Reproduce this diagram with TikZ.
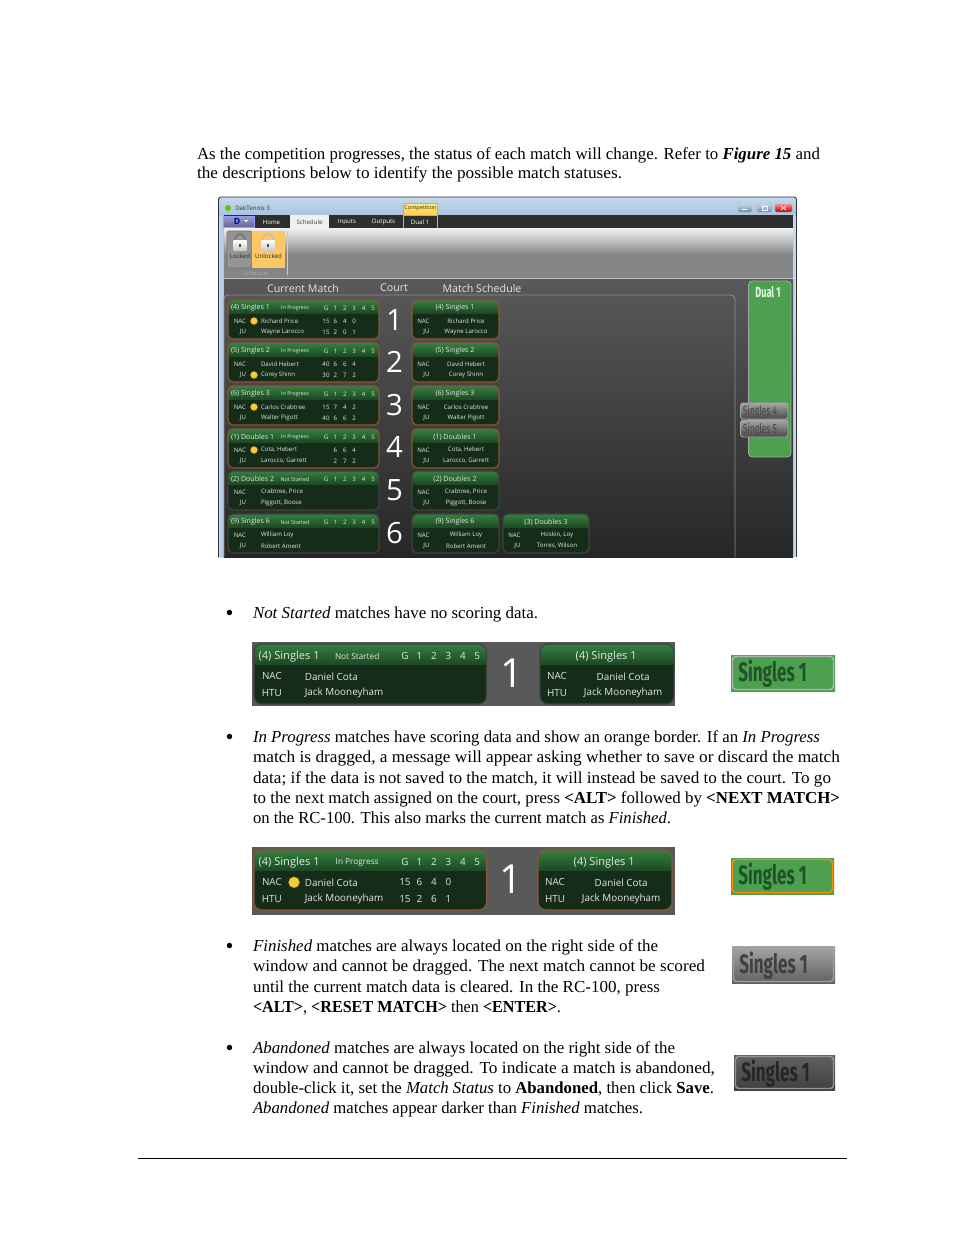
\documentclass[tikz,border=0pt]{standalone}
\usepackage{fontspec}
\usepackage{graphicx}
\setmainfont{Liberation Serif}
\newfontfamily\uifont{Open Sans}
\newfontfamily\condfont{Fira Sans}
\usetikzlibrary{calc}
\definecolor{uitext}{HTML}{E2E8E2}
\definecolor{cardbody}{HTML}{142C18}
\definecolor{hdrtop}{HTML}{35803F}
\definecolor{hdrbot}{HTML}{1C4A24}
\definecolor{brownedge}{HTML}{8A5536}
\definecolor{darkedge}{HTML}{3E423E}
\definecolor{dotyellow}{HTML}{F0CF3A}
\definecolor{stripgray}{HTML}{595959}
\definecolor{dualgreen}{HTML}{4CA04F}
\definecolor{swtext}{HTML}{1F5228}
\definecolor{winblue}{HTML}{C4D8EC}
\definecolor{winblueb}{HTML}{A8C4E0}
\definecolor{orangebtn}{HTML}{FCC865}
\tikzset{
  txt/.style={anchor=base west,inner sep=0pt,outer sep=0pt,text=black},
  ui/.style={inner sep=0pt,outer sep=0pt,text=uitext,font=\uifont},
}
% page text line: name, x, y, width in px, text
\newcommand\tl[5]{\node[txt] (#1) at (#2,#3+6) {\resizebox{\dimexpr #4pt*3/4\relax}{\height}{\fontsize{12.6}{14}\selectfont #5}};}
\newcommand\bul[2]{\node[txt] (#1) at (225.5,#2+8.5) {\fontsize{17}{17}\selectfont •};}
% card settings
\def\cs{1}\def\rr{5}\def\fa{4.6}\def\fb{4.0}\def\ft{5.3}\def\edge{brownedge}\def\tA{NAC}\def\tB{JU}\def\dotrow{0}
\newcommand\cardbase[4]{% x y w h
  \begin{scope}
  \clip[rounded corners=\rr*0.75pt] (0,0) rectangle (#3,#4);
  \fill[cardbody] (0,0) rectangle (#3,#4);
  \shade[top color=hdrtop,bottom color=hdrbot] (0,0) rectangle (#3,13);
  \end{scope}
  \draw[\edge,line width=0.9pt,rounded corners=\rr*0.75pt] (0,0) rectangle (#3,#4);
}
% left card: name x y title status p1 p2 scoresA scoresB
\newcommand\lcard[9]{%
  \begin{scope}[shift={(#2,#3)},scale=\cs]
  \cardbase{#2}{#3}{151}{39}
  \node[ui,anchor=west,font=\uifont\fontsize{\ft}{\ft}\selectfont] (#1-title) at (3,8) {#4};
  \node[ui,font=\uifont\fontsize{\fb}{\fb}\selectfont] (#1-status) at (67,8) {#5};
  \foreach \v [count=\i] in {G,1,2,3,4,5}
    \node[ui,font=\uifont\fontsize{\fa}{\fa}\selectfont] (#1-h\i) at ({98+9.4*(\i-1)},8) {\v};
  \node[ui,anchor=east,font=\uifont\fontsize{\fa}{\fa}\selectfont] (#1-ta) at (18,21) {\tA};
  \node[ui,anchor=east,font=\uifont\fontsize{\fa}{\fa}\selectfont] (#1-tb) at (18,32) {\tB};
  \node[ui,anchor=west,font=\uifont\fontsize{\fa}{\fa}\selectfont] (#1-pa) at (33,21) {#6};
  \node[ui,anchor=west,font=\uifont\fontsize{\fa}{\fa}\selectfont] (#1-pb) at (33,32) {#7};
  \foreach \v [count=\i] in {#8}
    \node[ui,font=\uifont\fontsize{\fa}{\fa}\selectfont] (#1-a\i) at ({98+9.4*(\i-1)},21) {\v};
  \foreach \v [count=\i] in {#9}
    \node[ui,font=\uifont\fontsize{\fa}{\fa}\selectfont] (#1-b\i) at ({98+9.4*(\i-1)},32) {\v};
  \ifnum\dotrow=1 \fill[dotyellow,draw=orange!80!black,line width=0.2pt] (26,21) circle (3.6); \fi
  \ifnum\dotrow=2 \fill[dotyellow,draw=orange!80!black,line width=0.2pt] (26,32) circle (3.6); \fi
  \end{scope}}
% right card: name x y title p1 p2 w
\newcommand\rcard[7]{%
  \begin{scope}[shift={(#2,#3)},scale=\cs]
  \cardbase{#2}{#3}{#7}{39}
  \node[ui,font=\uifont\fontsize{\ft}{\ft}\selectfont] (#1-title) at (43,8) {#4};
  \node[ui,anchor=east,font=\uifont\fontsize{\fa}{\fa}\selectfont] (#1-ta) at (17.5,21) {\tA};
  \node[ui,anchor=east,font=\uifont\fontsize{\fa}{\fa}\selectfont] (#1-tb) at (17.5,32) {\tB};
  \node[ui,font=\uifont\fontsize{\fa}{\fa}\selectfont] (#1-pa) at (54,21) {#5};
  \node[ui,font=\uifont\fontsize{\fa}{\fa}\selectfont] (#1-pb) at (54,32) {#6};
  \end{scope}}
% swatch: name x0 y0 x1 y1 fill-top fill-bottom edge textcolor
\newcommand\swatch[9]{%
  \shade[top color=#6,bottom color=#7] (#2,#3) rectangle (#4,#5);
  \draw[#8,line width=1.1pt,rounded corners=2.5pt] (#2+1.5,#3+1.5) rectangle (#4-1.5,#5-1.5);
  \node[inner sep=0pt,anchor=west,text=#9] (#1) at (#2+7,{(#3+#5)/2+1}) {\scalebox{0.64}[1]{\condfont\fontsize{20}{20}\selectfont\bfseries Singles 1}};}
\newcommand\lockicon[2]{%
  \draw[#2,line width=1pt] (#1-5,241) -- (#1-5,239) arc[start angle=180,end angle=360,radius=5] -- (#1+5,241);
  \shade[top color=white,bottom color=gray!40] (#1-6.5,240.5) rectangle (#1+6.5,250);
  \fill[black!70] (#1-1,244) rectangle (#1+1,247);}
\begin{document}
\begin{tikzpicture}[x=0.75pt,y=-0.75pt]
\useasboundingbox (0,0) rectangle (954,1235);
\fill[white] (0,0) rectangle (954,1235);
% --- intro
\tl{l1}{197}{153}{623}{As the competition progresses, the status of each match will change. Refer to \textbf{\textit{Figure 15}} and}
\tl{l2}{197}{172}{425}{the descriptions below to identify the possible match statuses.}
% --- screenshot frame
\fill[left color=winblue,right color=winblueb] (218.5,197) rectangle (224,557);
\fill[winblue] (792,197) rectangle (796.5,557);
\shade[top color=winblue,bottom color=winblueb] (218.5,197) rectangle (796.5,215);
\draw[black!80,line width=0.6pt,rounded corners=2pt] (218.5,557) -- (218.5,197) -- (796.5,197) -- (796.5,557);
\fill[black!82] (224,215) rectangle (793,228);
\shade[top color=black!6,bottom color=black!48,middle color=black!25] (224,228) rectangle (793,254);
\fill[black!48] (224,254) rectangle (793,278);
\draw[black!25,line width=0.6pt] (224,278.5) -- (793,278.5);
\shade[top color=black!65,bottom color=black!85] (224,279) rectangle (793,557);
% title bar
\fill[green!60!yellow!80!black] (228,208) circle (3);
\node[inner sep=0pt,anchor=west,font=\uifont\fontsize{4.6}{5}\selectfont,text=black!80] (apptitle) at (235,208.5) {DakTennis 3};
\shade[top color=winblue,bottom color=winblueb!70!black,draw=gray!60!white,line width=0.3pt,rounded corners=0.8pt] (738,204) rectangle (752,212);
\shade[top color=winblue,bottom color=winblueb!70!black,draw=gray!60!white,line width=0.3pt,rounded corners=0.8pt] (757,204) rectangle (772,212);
\shade[top color=red!45!white,bottom color=red!70!black,draw=gray!60!white,line width=0.3pt,rounded corners=0.8pt] (775,204) rectangle (792,212);
\draw[white,line width=0.5pt] (742,209.5) -- (747,209.5);
\draw[white,line width=0.4pt] (762,206.5) rectangle (767,210);
\draw[white,line width=0.5pt] (781,206) -- (786,210) (781,210) -- (786,206);
% tabs
\shade[top color=blue!30!gray!60!white,bottom color=blue!40!black!60,draw=blue!40!white,line width=0.3pt] (223,216) rectangle (254,227);
\node[inner sep=0pt,text=blue!50!black,font=\uifont\bfseries\fontsize{6.5}{6}\selectfont] (dbtn) at (237,221) {D};
\fill[white] (244,220) -- (248,220) -- (246,222) -- cycle;
\fill[black!6] (290,215) rectangle (329,228);
\shade[top color=orange!30!yellow!50!white,bottom color=orange!60!yellow!70!white,draw=orange!70!yellow,line width=0.3pt] (403,203) rectangle (437,215);
\draw[orange!60!yellow,line width=0.4pt] (403,215) -- (403,228) (437,215) -- (437,228);
\foreach \nm/\xp/\lab/\cl in {thome/271.5/Home/white,tsched/309.5/Schedule/black!75,tinp/347/Inputs/white,toutp/383.5/Outputs/white,tdual/420/Dual 1/white}
  \node[inner sep=0pt,font=\uifont\fontsize{4.6}{5}\selectfont,text=\cl] (\nm) at (\xp,222) {\lab};
\node[inner sep=0pt,font=\uifont\fontsize{4.2}{5}\selectfont,text=black!80] (tcomp) at (420.5,208.5) {Competition};
% ribbon buttons
\draw[black!55,fill=black!42,line width=0.5pt,rounded corners=1.5pt] (227,231) rectangle (252,268);
\fill[orangebtn] (252,231) rectangle (285,268);
\draw[white!80!black,line width=0.5pt] (287,231) -- (287,275);
\lockicon{240}{black!55}
\lockicon{268}{black!25}
\node[inner sep=0pt,font=\uifont\fontsize{4.6}{5}\selectfont,text=black!85] (blocked) at (240,256.5) {Locked};
\node[inner sep=0pt,font=\uifont\fontsize{4.6}{5}\selectfont,text=black!85] (bunlocked) at (268.5,256.5) {Unlocked};
\node[inner sep=0pt,font=\uifont\fontsize{4.4}{5}\selectfont,text=black!32] (bgroup) at (256,273) {Schedule};
% headers
\foreach \nm/\xp/\lab in {hcur/303/Current Match,hcourt/394/Court,hsched/482/Match Schedule}
  \node[inner sep=0pt,font=\uifont\fontsize{8}{9}\selectfont,text=white!90!black] (\nm) at (\xp,288) {\lab};
\draw[black!45,line width=0.7pt,rounded corners=3pt] (224,557) -- (224,295) -- (735,295) -- (735,557);
% cards
\def\edge{brownedge}
\def\dotrow{1}
\lcard{a1}{228}{300}{(4) Singles 1}{In Progress}{Richard Price}{Wayne Larocco}{15,6,4,0}{15,2,0,1}
\def\dotrow{2}
\lcard{a2}{228}{343}{(5) Singles 2}{In Progress}{David Hebert}{Corey Shinn}{40,6,6,4}{30,2,7,2}
\def\dotrow{1}
\lcard{a3}{228}{386}{(6) Singles 3}{In Progress}{Carlos Crabtree}{Walter Pigott}{15,7,4,2}{40,6,6,2}
\lcard{a4}{228}{429}{(1) Doubles 1}{In Progress}{Cota, Hebert}{Larocco, Garrett}{{},6,6,4}{{},2,7,2}
\rcard{b1}{412}{300}{(4) Singles 1}{Richard Price}{Wayne Larocco}{87}
\rcard{b2}{412}{343}{(5) Singles 2}{David Hebert}{Corey Shinn}{87}
\rcard{b3}{412}{386}{(6) Singles 3}{Carlos Crabtree}{Walter Pigott}{87}
\rcard{b4}{412}{429}{(1) Doubles 1}{Cota, Hebert}{Larocco, Garrett}{87}
\def\edge{darkedge}\def\dotrow{0}
\lcard{a5}{228}{471}{(2) Doubles 2}{Not Started}{Crabtree, Price}{Piggott, Boose}{{}}{{}}
\lcard{a6}{228}{514}{(9) Singles 6}{Not Started}{William Loy}{Robert Ament}{{}}{{}}
\rcard{b5}{412}{471}{(2) Doubles 2}{Crabtree, Price}{Piggott, Boose}{87}
\rcard{b6}{412}{514}{(9) Singles 6}{William Loy}{Robert Ament}{87}
\begin{scope}[shift={(91,0)}]
\rcard{b7}{412}{514}{(3) Doubles 3}{Hoskin, Loy}{Torres, Wilson}{86}
\end{scope}
\foreach \d/\yp in {1/320,2/362,3/405,4/447,5/490,6/533}
  \node[inner sep=0pt,text=white,font=\uifont\fontsize{22}{22}\selectfont] (court\d) at (394.5,\yp) {\d};
% dual panel
\draw[fill=dualgreen,draw=black!35,line width=0.7pt,rounded corners=3pt] (748.5,281) rectangle (791,457);
\node[inner sep=0pt,text=white!88!green,font=\condfont\bfseries\fontsize{11}{11}\selectfont] (dualname) at (768,292.5) {\scalebox{0.62}[1]{Dual 1}};
\foreach \nm/\ya/\yb/\lab in {s4/403/419/Singles 4,s5/420/437/Singles 5}{
  \shade[top color=black!35,bottom color=black!72,draw=black!35,line width=0.6pt,rounded corners=2pt] (740.5,\ya) rectangle (788,\yb);
  \node[inner sep=0pt,anchor=west,text=black!72,font=\condfont\fontsize{10}{10}\selectfont] (\nm) at (742.5,{(\ya+\yb)/2+1}) {\scalebox{0.64}[1]{\lab}};
}
% --- not started
\bul{bu1}{612}
\tl{l3}{253}{612}{285}{\textit{Not Started} matches have no scoring data.}
\fill[stripgray] (252,642) rectangle (675,706);
\def\cs{1.54}\def\rr{8}\def\fa{7.4}\def\fb{6.2}\def\ft{8.3}\def\edge{darkedge}\def\tB{HTU}\def\dotrow{0}
\lcard{c1}{254}{644}{(4) Singles 1}{Not Started}{Daniel Cota}{Jack Mooneyham}{{}}{{}}
\rcard{c2}{540}{644}{(4) Singles 1}{Daniel Cota}{Jack Mooneyham}{87}
\node[inner sep=0pt,text=white,font=\uifont\fontsize{30}{30}\selectfont] (court-c) at (512,673) {1};
\swatch{sw1}{731}{655}{835}{691}{dualgreen}{dualgreen}{black!30}{swtext}
% --- in progress
\bul{bu2}{736}
\tl{l4}{253}{736}{567}{\textit{In Progress} matches have scoring data and show an orange border. If an \textit{In Progress}}
\tl{l5}{253}{756}{587}{match is dragged, a message will appear asking whether to save or discard the match}
\tl{l6}{253}{777}{578}{data; if the data is not saved to the match, it will instead be saved to the court. To go}
\tl{l7}{253}{797}{587}{to the next match assigned on the court, press \textbf{<ALT>} followed by \textbf{<NEXT MATCH>}}
\tl{l8}{253}{817}{418}{on the RC-100. This also marks the current match as \textit{Finished}.}
\fill[stripgray] (252,847) rectangle (675,915);
\def\edge{brownedge}\def\dotrow{1}
\lcard{c3}{254}{850}{(4) Singles 1}{In Progress}{Daniel Cota}{Jack Mooneyham}{15,6,4,0}{15,2,6,1}
\rcard{c4}{538}{850}{(4) Singles 1}{Daniel Cota}{Jack Mooneyham}{87}
\node[inner sep=0pt,text=white,font=\uifont\fontsize{30}{30}\selectfont] (court-d) at (511,879) {1};
\swatch{sw2}{731}{858}{834}{894}{dualgreen}{dualgreen}{orange!90!yellow}{swtext}
% --- finished
\bul{bu3}{945}
\tl{l9}{253}{945}{405}{\textit{Finished} matches are always located on the right side of the}
\tl{l10}{253}{965}{452}{window and cannot be dragged. The next match cannot be scored}
\tl{l11}{253}{986}{407}{until the current match data is cleared. In the RC-100, press}
\tl{l12}{253}{1006}{308}{\textbf{<ALT>}, \textbf{<RESET MATCH>} then \textbf{<ENTER>}.}
\swatch{sw3}{732}{946}{835}{983}{black!35}{black!62}{black!38}{black!75}
% --- abandoned
\bul{bu4}{1047}
\tl{l13}{253}{1047}{422}{\textit{Abandoned} matches are always located on the right side of the}
\tl{l14}{253}{1067}{462}{window and cannot be dragged. To indicate a match is abandoned,}
\tl{l15}{253}{1087}{461}{double-click it, set the \textit{Match Status} to \textbf{Abandoned}, then click \textbf{Save}.}
\tl{l16}{253}{1107}{390}{\textit{Abandoned} matches appear darker than \textit{Finished} matches.}
\swatch{sw4}{734}{1055}{835}{1090}{black!62}{black!75}{black!42}{black!85}
% footer rule
\coordinate (fl) at (138,1158.5);
\coordinate (fr) at (847,1158.5);
\draw[black,line width=0.6pt] (fl) -- (fr);
\end{tikzpicture}
\end{document}
